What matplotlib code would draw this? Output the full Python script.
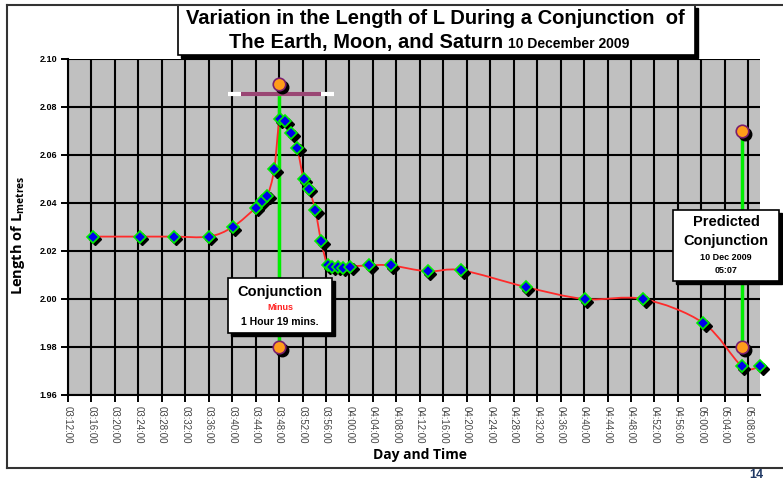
import matplotlib.pyplot as plt
import numpy as np
from matplotlib.path import Path
from matplotlib.patches import PathPatch, Rectangle
from matplotlib import transforms

# measured points, 10 Dec 2009
times = ["03:16:15", "03:24:15", "03:30:00", "03:36:00", "03:40:05", "03:44:00",
         "03:45:00", "03:46:00", "03:47:10", "03:48:05", "03:49:05", "03:50:05",
         "03:51:05", "03:52:10", "03:53:05", "03:54:10", "03:55:10", "03:56:15",
         "03:57:05", "03:58:00", "03:58:50", "04:00:10", "04:03:20", "04:07:00",
         "04:13:20", "04:19:05", "04:30:05", "04:40:05", "04:50:05", "05:00:20",
         "05:06:55", "05:10:00"]
length_m = [2.026, 2.026, 2.026, 2.026, 2.030, 2.038, 2.041, 2.043, 2.054, 2.075,
            2.074, 2.069, 2.063, 2.050, 2.046, 2.037, 2.024, 2.014, 2.0135, 2.0135,
            2.013, 2.0135, 2.014, 2.014, 2.0115, 2.012, 2.005, 2.000, 2.000, 1.990,
            1.972, 1.972]

tick_times = ["03:12:00", "03:16:00", "03:20:00", "03:24:00", "03:28:00", "03:32:00",
              "03:36:00", "03:40:00", "03:44:00", "03:48:00", "03:52:00", "03:56:00",
              "04:00:00", "04:04:00", "04:08:00", "04:12:00", "04:16:00", "04:20:00",
              "04:24:00", "04:28:00", "04:32:00", "04:36:00", "04:40:00", "04:44:00",
              "04:48:00", "04:52:00", "04:56:00", "05:00:00", "05:04:00", "05:08:00"]
x_end = "05:10:00"
y_ticks = [1.96, 1.98, 2.00, 2.02, 2.04, 2.06, 2.08, 2.10]

# observed conjunction and predicted conjunction markers
conj_times = ["03:48:00", "05:07:00"]
conj_top = [2.0895, 2.070]
conj_bottom = [1.980, 1.980]

# bar over the peak
bar_y = 2.0855
bar_outer = ["03:39:15", "03:57:20"]
bar_inner = ["03:41:25", "03:55:05"]


def to_min(t):
    h, m, s = [int(v) for v in t.split(":")]
    return h * 60 + m + s / 60.0


def px(x, y):
    return x / 783.0, 1 - y / 482.0


x = np.array([to_min(t) for t in times])
y = np.array(length_m)
xt = [to_min(t) for t in tick_times]

fig = plt.figure(figsize=(7.83, 4.82), dpi=100)
fig.patch.set_facecolor("white")
ax = fig.add_axes([68 / 783, 87 / 482, 692 / 783, 336 / 482])
ax.set_facecolor("#c0c0c0")
ax.set_xlim(xt[0], to_min(x_end))
ax.set_ylim(y_ticks[0], y_ticks[-1])
ax.set_xticks(xt)
ax.set_xticklabels(tick_times, rotation=-90, fontsize=7, color="#444444",
                   family="Liberation Sans")
ax.set_yticks(y_ticks)
ax.set_yticklabels(["%.2f" % v for v in y_ticks], fontsize=6.5, fontweight="bold",
                   family="Liberation Sans")
ax.tick_params(direction="out", length=5, width=1.4, color="black", pad=3)
ax.grid(True, color="black", lw=1.5)
ax.set_axisbelow(True)
for s in ["top", "right"]:
    ax.spines[s].set_visible(False)
for s in ["left", "bottom"]:
    ax.spines[s].set_linewidth(1.5)

# smoothed line through the points (bezier segments like excel)
pts = np.column_stack([x, y])
verts = [pts[0]]
codes = [Path.MOVETO]
n = len(pts)
for i in range(n - 1):
    p0 = pts[i - 1] if i > 0 else pts[i]
    p1 = pts[i]
    p2 = pts[i + 1]
    p3 = pts[i + 2] if i + 2 < n else pts[i + 1]
    c1 = p1 + (p2 - p0) / 6.0
    c2 = p2 - (p3 - p1) / 6.0
    verts += [c1, c2, p2]
    codes += [Path.CURVE4] * 3
ax.add_patch(PathPatch(Path(verts, codes), fill=False, edgecolor="#ff2a2a", lw=1.3,
                       zorder=3, clip_on=False))

shadow = transforms.offset_copy(ax.transData, fig=fig, x=2.5, y=-2.5, units="dots")

# green conjunction lines
for t, top, bot in zip(conj_times, conj_top, conj_bottom):
    ax.plot([to_min(t), to_min(t)], [bot, top], color="#00ee00", lw=2.5, zorder=2.5)

# purple bar
ax.plot([to_min(bar_outer[0]), to_min(bar_outer[1])], [bar_y, bar_y], color="white",
        lw=3, zorder=2.6, solid_capstyle="butt")
ax.plot([to_min(bar_inner[0]), to_min(bar_inner[1])], [bar_y, bar_y], color="#9a4674",
        lw=3, zorder=2.7, solid_capstyle="butt")

# data markers with shadow
ax.plot(x, y, "D", ms=5.8, color="black", mec="black", transform=shadow, zorder=4,
        clip_on=False)
ax.plot(x, y, "D", ms=5.8, mfc="#0000ee", mec="#00ee00", mew=1.2, zorder=5,
        clip_on=False)

# orange circles
cx = [to_min(t) for t in conj_times] * 2
cy = conj_top + conj_bottom
ax.plot(cx, cy, "o", ms=9, color="black", transform=shadow, zorder=6)
ax.plot(cx, cy, "o", ms=9, mfc="#ff9c1a", mec="#7a1f6e", mew=1.2, zorder=7)


def box(x0, x1, y0, y1):
    sh = transforms.offset_copy(ax.transData, fig=fig, x=3, y=-3, units="dots")
    ax.add_patch(Rectangle((x0, y0), x1 - x0, y1 - y0, facecolor="black",
                           edgecolor="black", transform=sh, zorder=8, clip_on=False))
    ax.add_patch(Rectangle((x0, y0), x1 - x0, y1 - y0, facecolor="white",
                           edgecolor="black", lw=1.2, zorder=9, clip_on=False))


# "Conjunction" box
box(219.3, 237.0, 1.9858, 2.00875)
xc = 228.2
ax.text(xc, 2.0029, "Conjunction", ha="center", va="center", fontsize=10.5,
        fontweight="bold", family="Liberation Sans", zorder=10)
ax.text(xc, 1.9966, "Minus", ha="center", va="center", fontsize=6.5,
        fontweight="bold", color="#ff2020", family="Liberation Sans", zorder=10)
ax.text(xc, 1.9906, "1 Hour 19 mins.", ha="center", va="center", fontsize=7.5,
        fontweight="bold", family="Liberation Sans", zorder=10)

# "Predicted Conjunction" box
box(295.2, 313.2, 2.0075, 2.0371)
xp = 304.2
ax.text(xp, 2.0322, "Predicted", ha="center", va="center", fontsize=10.5,
        fontweight="bold", family="Liberation Sans", zorder=10, clip_on=False)
ax.text(xp, 2.0243, "Conjunction", ha="center", va="center", fontsize=10.5,
        fontweight="bold", family="Liberation Sans", zorder=10, clip_on=False)
ax.text(xp, 2.0173, "10 Dec 2009", ha="center", va="center", fontsize=6.5,
        fontweight="bold", family="Liberation Sans", zorder=10, clip_on=False)
ax.text(xp, 2.0117, "05:07", ha="center", va="center", fontsize=6.5,
        fontweight="bold", family="Liberation Sans", zorder=10, clip_on=False)

# axis labels
fig.text(*px(420, 455), "Day and Time", ha="center", va="center", fontsize=10,
         fontweight="bold", family="Open Sans")
fig.text(*px(18, 235), r"Length of L$_{\mathregular{metres}}$", rotation=90,
         ha="center", va="center", fontsize=10.5, fontweight="bold", family="Open Sans")

# outer frame
fig.add_artist(plt.Line2D([7 / 783, 1], [1 - 5 / 482] * 2, color="#333333", lw=1.5))
fig.add_artist(plt.Line2D([7 / 783] * 2, [1 - 5 / 482, 1 - 468 / 482], color="#333333",
                          lw=1.5))
fig.add_artist(plt.Line2D([7 / 783, 1], [1 - 468 / 482] * 2, color="#333333", lw=1.5))
fig.text(*px(756, 475), "14", ha="center", va="center", fontsize=9, fontweight="bold",
         color="#1f3864", family="Liberation Sans")

# title box
fx0, fy1 = px(178, 5)
fx1, fy0 = px(695, 55)
fig.add_artist(Rectangle((fx0 + 3 / 783, fy0 - 3 / 482), fx1 - fx0, fy1 - fy0,
                         transform=fig.transFigure, facecolor="black", edgecolor="black"))
fig.add_artist(Rectangle((fx0, fy0), fx1 - fx0, fy1 - fy0, transform=fig.transFigure,
                         facecolor="white", edgecolor="black", lw=1.2))
fig.text(*px(435, 19), "Variation in the Length of L During a Conjunction  of",
         ha="center", va="center", fontsize=14.5, fontweight="bold",
         family="Liberation Sans")
fig.text(503 / 783, 1 - 48 / 482, "The Earth, Moon, and Saturn", ha="right",
         va="baseline", fontsize=14.5, fontweight="bold", family="Liberation Sans")
fig.text(508 / 783, 1 - 48 / 482, "10 December 2009", ha="left", va="baseline",
         fontsize=10, fontweight="bold", family="Liberation Sans")

fig.savefig("out.png", dpi=100)
